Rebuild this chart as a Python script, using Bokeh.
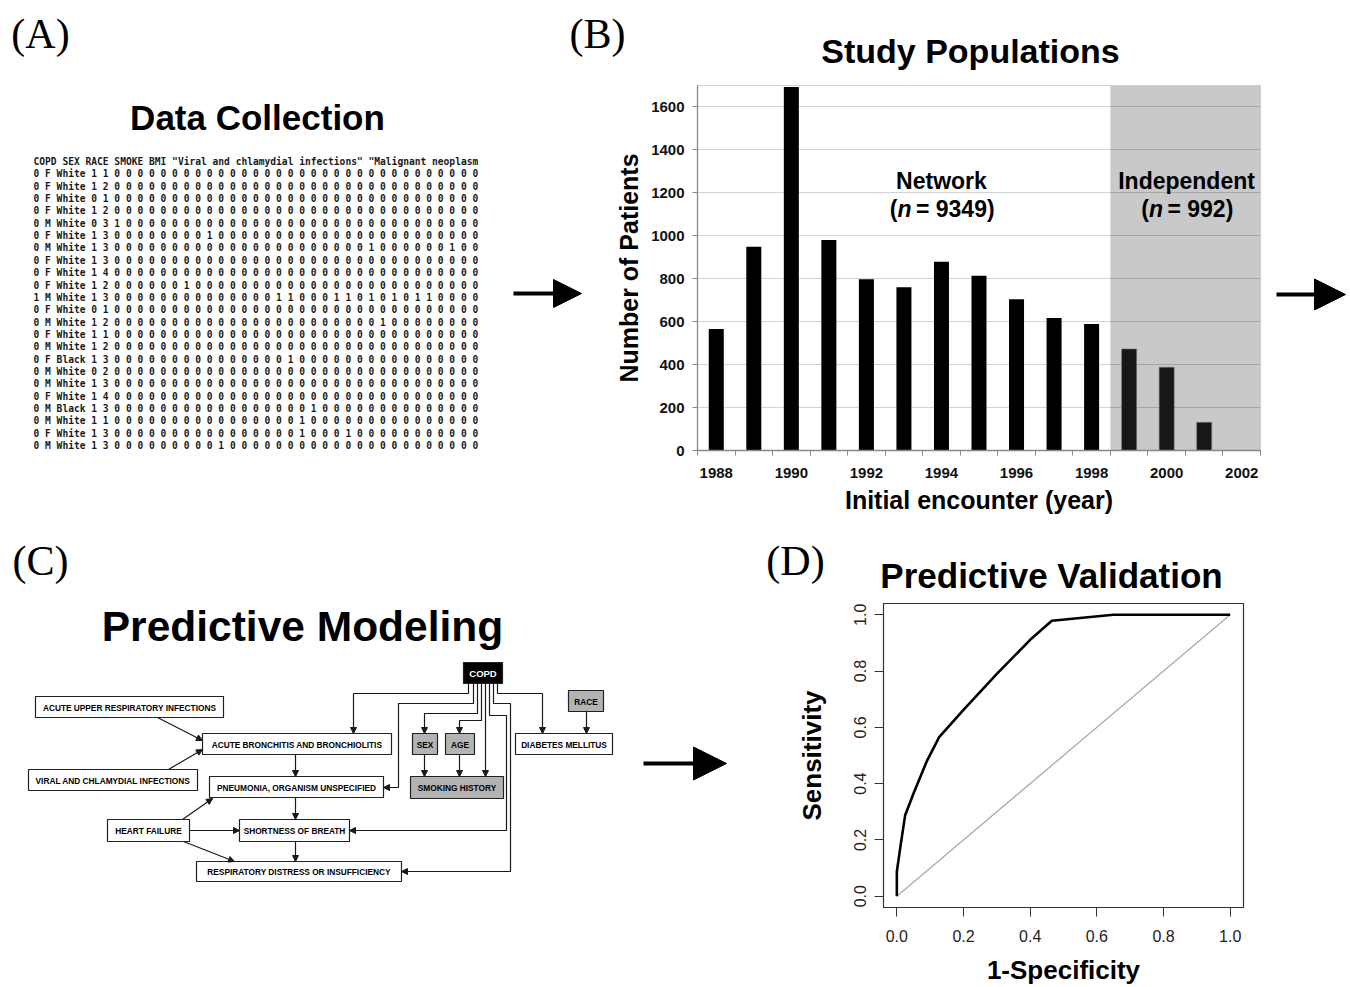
import math
from bokeh.plotting import figure
from bokeh.layouts import column, row
from bokeh.models import Range1d, FixedTicker, Arrow, NormalHead, PrintfTickFormatter
from bokeh.core.properties import value
from bokeh.embed import file_html
from bokeh.resources import INLINE

SANS = "Liberation Sans"
SERIF = "Liberation Serif"
MONO = "DejaVu Sans Mono"

# ---------------- Panel A data (raw table excerpt) ----------------
table_header = 'COPD SEX RACE SMOKE BMI "Viral and chlamydial infections" "Malignant neoplasm'
table_copd = [0, 0, 0, 0, 0, 0, 0, 0, 0, 0, 1, 0, 0, 0, 0, 0, 0, 0, 0, 0, 0, 0, 0]
table_sex = list("FFFFMFMFFFMFMFMFMMFMMFM")
table_race = ["White"] * 15 + ["Black"] + ["White"] * 3 + ["Black"] + ["White"] * 3
table_smoke = [1, 1, 0, 1, 0, 1, 1, 1, 1, 1, 1, 0, 1, 1, 1, 1, 0, 1, 1, 1, 1, 1, 1]
table_bmi = [1, 2, 1, 2, 3, 3, 3, 3, 4, 2, 3, 1, 2, 1, 2, 3, 2, 3, 4, 3, 1, 3, 3]
table_ones = [[], [], [], [], [0], [8], [22, 29], [], [], [6],
              [14, 15, 19, 20, 22, 24, 26, 27], [], [23], [], [], [15], [], [], [],
              [17], [16], [16, 20], [9]]
n_flag_cols = 32

# ---------------- Panel B data ----------------
years = [1988, 1989, 1990, 1991, 1992, 1993, 1994, 1995, 1996, 1997, 1998, 1999, 2000, 2001]
patients = [566, 949, 1693, 980, 798, 760, 879, 814, 705, 617, 589, 473, 388, 131]
split_year = 1998.5
network_n = 9349
independent_n = 992
year_tick_labels = [1988, 1990, 1992, 1994, 1996, 1998, 2000, 2002]
count_ticks = [0, 200, 400, 600, 800, 1000, 1200, 1400, 1600]

# ---------------- Panel C data (network) ----------------
node_names = ["COPD", "RACE", "ACUTE UPPER RESPIRATORY INFECTIONS",
              "ACUTE BRONCHITIS AND BRONCHIOLITIS", "SEX", "AGE", "DIABETES MELLITUS",
              "VIRAL AND CHLAMYDIAL INFECTIONS", "PNEUMONIA, ORGANISM UNSPECIFIED",
              "SMOKING HISTORY", "HEART FAILURE", "SHORTNESS OF BREATH",
              "RESPIRATORY DISTRESS OR INSUFFICIENCY"]
node_kind = ["outcome", "demo", "dx", "dx", "demo", "demo", "dx", "dx", "dx", "demo", "dx", "dx", "dx"]

# ---------------- Panel D data ----------------
roc_fpr = [0.0, 0.0, 0.01, 0.025, 0.05, 0.09, 0.127, 0.2, 0.3, 0.4, 0.465, 0.65, 1.0]
roc_tpr = [0.0, 0.087, 0.17, 0.288, 0.365, 0.48, 0.565, 0.662, 0.79, 0.911, 0.979, 1.0, 1.0]
chance_fpr = [0.0, 1.0]
chance_tpr = [0.0, 1.0]
roc_ticks = [0.0, 0.2, 0.4, 0.6, 0.8, 1.0]


def canvas(w, h, x0, y0):
    p = figure(width=w, height=h, x_range=Range1d(x0, x0 + w), y_range=Range1d(y0 + h, y0),
               min_border=0, x_axis_location=None, y_axis_location=None,
               toolbar_location=None, output_backend="svg", title=None, frame_align=False)
    p.outline_line_color = None
    p.grid.visible = False
    p.background_fill_color = "white"
    p.border_fill_color = "white"
    return p


def big_arrow(p, x0, x1, y, size):
    p.segment(x0=[x0], y0=[y], x1=[x1 - size + 2], y1=[y], line_color="black", line_width=4)
    p.add_layout(Arrow(x_start=x1 - size, y_start=y, x_end=x1, y_end=y, line_alpha=0,
                       end=NormalHead(size=size, fill_color="black", line_color="black")))


# ---------------- top strip ----------------
top = canvas(1350, 70, 0, 0)
top.text(x=[40, 597], y=[33, 33], text=["(A)", "(B)"], text_font=value(SERIF),
         text_font_size="42px", text_align="center", text_baseline="middle", text_color="black")
top.text(x=[970], y=[50], text=["Study Populations"], text_font=value(SANS), text_font_style="bold",
         text_font_size="34px", text_align="center", text_baseline="middle", text_color="black")

# ---------------- Panel A ----------------
pA = canvas(600, 460, 0, 70)
pA.text(x=[257], y=[117], text=["Data Collection"], text_font=value(SANS), text_font_style="bold",
        text_font_size="35px", text_align="center", text_baseline="middle", text_color="black")
lines = [table_header]
for i in range(len(table_copd)):
    bits = ["0"] * n_flag_cols
    for j in table_ones[i]:
        bits[j] = "1"
    lines.append(f"{table_copd[i]} {table_sex[i]} {table_race[i]} {table_smoke[i]} {table_bmi[i]} " + " ".join(bits))
pA.text(x=[33] * len(lines), y=[161 + 12.35 * k for k in range(len(lines))], text=lines,
        text_font=value(MONO), text_font_style="bold", text_font_size="9.6px", text_align="left",
        text_baseline="middle", text_color="#1a1a1a")
big_arrow(pA, 513, 581, 293, 28)

# ---------------- Panel B ----------------
pB = figure(width=675, height=460, x_range=Range1d(1987.5, 2002.5), y_range=Range1d(0, 1700),
            min_border_left=97, min_border_right=15, min_border_top=15, min_border_bottom=80,
            toolbar_location=None, output_backend="svg", title=None, frame_align=False)
pB.outline_line_color = "#d0d0d0"
pB.quad(left=[split_year], right=[2002.5], bottom=[0], top=[1700], fill_color="#c9c9c9",
        line_color=None, level="image")
net_x = [y for y in years if y < split_year]
net_v = [v for y, v in zip(years, patients) if y < split_year]
ind_x = [y for y in years if y > split_year]
ind_v = [v for y, v in zip(years, patients) if y > split_year]
pB.vbar(x=net_x, top=net_v, width=0.4, fill_color="black", line_color=None)
pB.vbar(x=ind_x, top=ind_v, width=0.4, fill_color="#171717", line_color="#777777", line_width=0.6)
pB.xgrid.visible = False
pB.ygrid.grid_line_color = "black"
pB.ygrid.grid_line_alpha = 0.17
pB.xaxis.ticker = FixedTicker(ticks=year_tick_labels, minor_ticks=[1987.5 + k for k in range(16)])
pB.yaxis.ticker = FixedTicker(ticks=count_ticks, minor_ticks=[])
for ax in (pB.xaxis[0], pB.yaxis[0]):
    ax.axis_line_color = "#888888"
    ax.axis_line_width = 1.3
    ax.major_label_text_font = SANS
    ax.major_label_text_font_style = "bold"
    ax.major_label_text_font_size = "15px"
    ax.major_label_text_color = "#111111"
    ax.axis_label_text_font = SANS
    ax.axis_label_text_font_style = "bold"
    ax.axis_label_text_font_size = "25px"
    ax.axis_label_text_color = "black"
pB.xaxis.major_tick_out = 0
pB.xaxis.major_tick_in = 0
pB.xaxis.minor_tick_out = 5
pB.xaxis.minor_tick_in = 0
pB.xaxis.minor_tick_line_color = "#888888"
pB.xaxis.major_label_standoff = 12
pB.xaxis.axis_label = "Initial encounter (year)"
pB.xaxis.axis_label_standoff = 5
pB.yaxis.major_tick_out = 5
pB.yaxis.major_tick_in = 0
pB.yaxis.major_tick_line_color = "#888888"
pB.yaxis.minor_tick_line_color = None
pB.yaxis.major_label_standoff = 8
pB.yaxis.axis_label = "Number of Patients"
pB.yaxis.axis_label_standoff = 5

ann_font = dict(text_font=value(SANS), text_font_style="bold", text_font_size="23px",
                text_baseline="middle", text_color="black")
pB.text(x=[1994.0, 2000.53], y=[1257, 1257], text=["Network", "Independent"], text_align="center", **ann_font)
for cx, n_val in ((1994.0, network_n), (2000.53, independent_n)):
    rest = f"= {n_val})"
    w_rest = (0.584 + 0.278 + 0.556 * len(str(n_val)) + 0.333) * 23
    w_total = 7.7 + 14.1 + 3 + w_rest
    left = -w_total / 2
    pB.text(x=[cx], y=[1127], text=["("], text_align="right", x_offset=left + 7.7, **ann_font)
    pB.text(x=[cx], y=[1127], text=["n"], text_align="left", x_offset=left + 7.7,
            text_font=value(SANS), text_font_style="bold italic", text_font_size="23px",
            text_baseline="middle", text_color="black")
    pB.text(x=[cx], y=[1127], text=[rest], text_align="left", x_offset=left + 7.7 + 18.5, **ann_font)

pArr = canvas(75, 460, 1275, 70)
big_arrow(pArr, 1276, 1345, 294, 31)

# ---------------- middle strip ----------------
mid = canvas(1350, 65, 0, 530)
mid.text(x=[40, 795], y=[560, 560], text=["(C)", "(D)"], text_font=value(SERIF),
         text_font_size="42px", text_align="center", text_baseline="middle", text_color="black")
mid.text(x=[1051], y=[575], text=["Predictive Validation"], text_font=value(SANS), text_font_style="bold",
         text_font_size="35px", text_align="center", text_baseline="middle", text_color="black")

# ---------------- Panel C ----------------
pC = canvas(760, 392, 0, 595)
pC.text(x=[302], y=[626], text=["Predictive Modeling"], text_font=value(SANS), text_font_style="bold",
        text_font_size="42.5px", text_align="center", text_baseline="middle", text_color="black")

# box layout (page pixels): x0, x1, y0, y1
boxes = [(463, 502, 662, 683), (568, 603, 690, 711), (35, 223, 696, 717), (202, 391, 733, 754),
         (412, 437, 733, 754), (445, 474, 733, 754), (515, 612, 733, 754), (28, 197, 769, 790),
         (209, 383, 776, 797), (410, 503, 776, 798), (107, 189, 819, 841), (239, 349, 819, 841),
         (196, 401, 861, 881)]
paths = [
    [(157, 717), (202, 740)],
    [(168, 769), (202, 749)],
    [(295, 754), (295, 776)],
    [(295, 797), (295, 819)],
    [(295, 841), (295, 861)],
    [(182, 819), (212, 798)],
    [(189, 830), (239, 830)],
    [(183, 841), (234, 861)],
    [(468, 683), (468, 693), (353, 693), (353, 733)],
    [(473, 683), (473, 703), (398, 703), (398, 787), (383, 787)],
    [(477, 683), (477, 713), (424, 713), (424, 733)],
    [(481, 683), (481, 720), (459, 720), (459, 733)],
    [(485, 683), (485, 776)],
    [(489, 683), (489, 715), (506, 715), (506, 830), (349, 830)],
    [(493, 683), (493, 703), (510, 703), (510, 871), (401, 871)],
    [(497, 683), (497, 693), (542, 693), (542, 733)],
    [(586, 711), (586, 733)],
    [(424, 754), (424, 776)],
    [(459, 754), (459, 776)],
]
pC.multi_line(xs=[[pt[0] for pt in pth] for pth in paths], ys=[[pt[1] for pt in pth] for pth in paths],
              line_color="#1a1a1a", line_width=1.2)
for pth in paths:
    (xa, ya), (xb, yb) = pth[-2], pth[-1]
    pC.add_layout(Arrow(x_start=xa, y_start=ya, x_end=xb, y_end=yb, line_alpha=0,
                        end=NormalHead(size=6, fill_color="#1a1a1a", line_color="#1a1a1a", line_width=1)))
fills = {"outcome": "black", "demo": "#b3b3b3", "dx": "white"}
tcols = {"outcome": "white", "demo": "black", "dx": "black"}
pC.quad(left=[b[0] for b in boxes], right=[b[1] for b in boxes], top=[b[2] for b in boxes],
        bottom=[b[3] for b in boxes], fill_color=[fills[k] for k in node_kind],
        line_color="#222222", line_width=1.2)
pC.text(x=[(b[0] + b[1]) / 2 for b in boxes], y=[(b[2] + b[3]) / 2 + 0.5 for b in boxes], text=node_names,
        text_font=value(SANS), text_font_style="bold",
        text_font_size=["9.5px" if k == "outcome" else "8.3px" for k in node_kind],
        text_align="center", text_baseline="middle", text_color=[tcols[k] for k in node_kind])
big_arrow(pC, 643, 726, 763, 33)

# ---------------- Panel D ----------------
pD = figure(width=590, height=392, x_range=Range1d(-0.04, 1.04), y_range=Range1d(-0.04, 1.04),
            min_border_left=123, min_border_right=107, min_border_top=8, min_border_bottom=80,
            toolbar_location=None, output_backend="svg", title=None, frame_align=False)
pD.outline_line_color = "#333333"
pD.outline_line_width = 1.2
pD.grid.visible = False
pD.line(chance_fpr, chance_tpr, line_color="#aaaaaa", line_width=1.3)
pD.line(roc_fpr, roc_tpr, line_color="black", line_width=2.6)
for ax in (pD.xaxis[0], pD.yaxis[0]):
    ax.ticker = FixedTicker(ticks=roc_ticks, minor_ticks=[])
    ax.formatter = PrintfTickFormatter(format="%.1f")
    ax.axis_line_color = "#333333"
    ax.major_tick_line_color = "#333333"
    ax.major_tick_out = 9
    ax.major_tick_in = 0
    ax.minor_tick_line_color = None
    ax.major_label_text_font = SANS
    ax.major_label_text_font_size = "16px"
    ax.major_label_text_color = "#222222"
    ax.axis_label_text_font = SANS
    ax.axis_label_text_font_style = "bold"
    ax.axis_label_text_font_size = "26px"
    ax.axis_label_text_color = "black"
pD.xaxis.major_label_standoff = 13
pD.xaxis.axis_label = "1-Specificity"
pD.xaxis.axis_label_standoff = 10
pD.yaxis.major_label_orientation = "vertical"
pD.yaxis.major_label_standoff = 8
pD.yaxis.axis_label = "Sensitivity"
pD.yaxis.axis_label_standoff = 25

layout = column(top, row(pA, pB, pArr), mid, row(pC, pD))
open("out.html", "w").write(file_html(layout, INLINE))
